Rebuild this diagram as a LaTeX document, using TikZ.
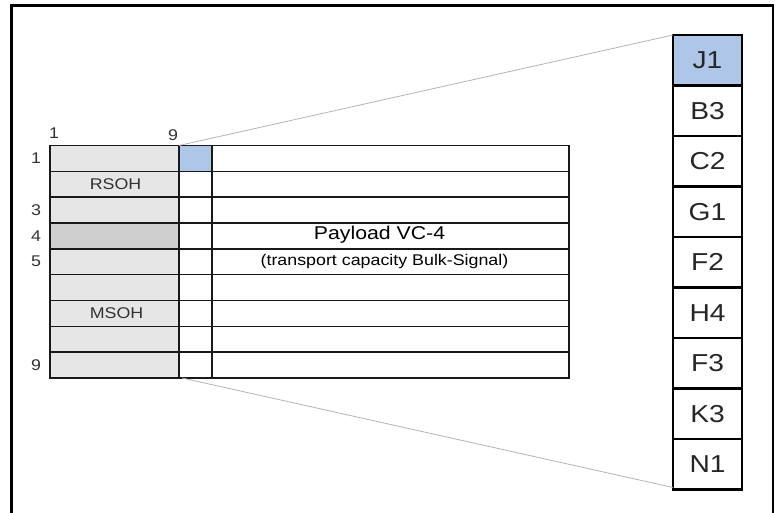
\documentclass[tikz,border=0pt]{standalone}
\usepackage{fontspec}
\setmainfont[FakeStretch=1.15]{Liberation Sans}
\definecolor{ohgray}{HTML}{E6E6E6}
\definecolor{ohdark}{HTML}{CFCFCF}
\definecolor{cellblue}{HTML}{AEC6E8}
\definecolor{fangray}{HTML}{B4B4B4}
\definecolor{txtgray}{HTML}{333333}
\begin{document}
\begin{tikzpicture}[x=1pt,y=-1pt,
  cell/.style={draw=black!90, line width=1.6pt, minimum height=25.83pt, inner sep=0pt, outer sep=0pt, anchor=north west},
  obox/.style={draw=black, line width=2.6pt, minimum width=69pt, minimum height=50.5pt, inner sep=0pt, outer sep=0pt, font=\fontsize{24.5}{28}\selectfont, text=black!85},
  lab/.style={inner sep=0pt, font=\fontsize{15.5}{18}\selectfont, text=txtgray},
  fan/.style={draw=fangray, line width=0.8pt}]
\useasboundingbox (0,0) rectangle (776,513);
% outer frame
\coordinate (fbl) at (11.5,513);
\coordinate (ftl) at (11.5,5.7);
\coordinate (ftr) at (773,5.7);
\coordinate (fbr) at (773,513);
\draw[line width=2.5pt] (fbl) -- (ftl) -- (ftr) -- (fbr);
% table rows
\foreach \i/\ohc/\cnc in {1/ohgray/cellblue,2/ohgray/white,3/ohgray/white,4/ohdark/white,5/ohgray/white,6/ohgray/white,7/ohgray/white,8/ohgray/white,9/ohgray/white}{
  \pgfmathsetmacro{\yy}{145.5+(\i-1)*25.83}
  \node[cell, fill=\ohc, minimum width=129pt] (oh\i) at (50,\yy) {};
  \node[cell, fill=\cnc, minimum width=33pt] (cn\i) at (179,\yy) {};
  \node[cell, fill=white, minimum width=357pt] (pl\i) at (212,\yy) {};
}
% labels in table
\node[lab] (rsoh) at ([xshift=1pt]oh2.center) {RSOH};
\node[lab] (msoh) at ([xshift=2pt]oh7.center) {MSOH};
\node[inner sep=0pt, font=\fontsize{18.5}{20}\selectfont] (pay) at ([xshift=-11pt,yshift=1pt]pl4.center) {Payload VC-4};
\node[inner sep=0pt, font=\fontsize{15.5}{17}\selectfont] (sub) at ([xshift=-6pt]pl5.center) {(transport capacity Bulk-Signal)};
% row numbers
\foreach \i in {1,3,4,5,9}{
  \node[lab] (rl\i) at ([xshift=-14pt]oh\i.west) {\i};
}
% column numbers
\node[lab] (cl1) at (54,133) {1};
\node[lab] (cl9) at (173,135) {9};
% byte column
\foreach \t [count=\k] in {J1,B3,C2,G1,F2,H4,F3,K3,N1}{
  \pgfmathsetmacro{\yy}{35+50.5*(\k-0.5)}
  \node[obox] (b\k) at (707.5,\yy) {\t};
}
\fill[cellblue] ([shift={(1.3pt,-1.3pt)}]b1.north west) rectangle ([shift={(-1.3pt,1.3pt)}]b1.south east);
\node[obox, draw=black] (b1j) at (b1.center) {J1};
% fan lines
\draw[fan] (cn1.north west) -- (b1.north west);
\draw[fan] ([xshift=3pt]cn9.south west) -- ([yshift=2pt]b9.south west);
\end{tikzpicture}
\end{document}
